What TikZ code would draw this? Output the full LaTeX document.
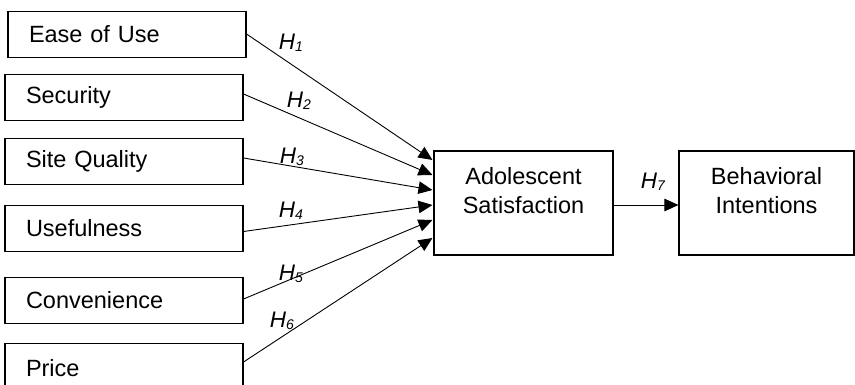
\documentclass[tikz,border=0pt]{standalone}
\usepackage{fontspec}
\setmainfont{Liberation Sans}
\usetikzlibrary{arrows.meta,calc}
\newcommand{\hsub}[1]{H\raisebox{-2.5pt}{\fontsize{14}{14}\selectfont #1}}
\begin{document}
\begin{tikzpicture}[x=1pt,y=-1pt,
  inbox/.style={draw, line width=1.1pt, minimum height=46pt, text width=196pt,
    inner xsep=21pt, inner ysep=0pt, align=left, font=\fontsize{23.5}{28}\selectfont},
  bigbox/.style={draw, line width=1.1pt, minimum height=104pt, inner sep=0pt},
  boxtext/.style={align=center, inner sep=0pt, font=\fontsize{23.5}{29}\selectfont},
  hyp/.style={line width=0.9pt, -{Triangle[length=14pt,width=12.5pt]}},
  hlab/.style={inner sep=0pt, font=\fontsize{22.5}{26}\selectfont\itshape}
]
\useasboundingbox (0,0) rectangle (855,385);
\clip (0,0) rectangle (855,385);

% antecedent constructs
\node[inbox, minimum width=238pt] (ease) at (127,34.5) {Ease of Use};
\node[inbox, minimum width=238pt] (sec)  at (124,97.5) {Security};
\node[inbox, minimum width=238pt] (site) at (124,161.5){Site Quality};
\node[inbox, minimum width=238pt] (usef) at (124,228.5){Usefulness};
\node[inbox, minimum width=238pt] (conv) at (124,300.5){Convenience};
\node[inbox, minimum width=238pt, minimum height=49pt] (price) at (124,368){Price};

% outcome constructs
\node[bigbox, minimum width=179pt] (adol) at (523.5,203) {};
\node[boxtext] (adoltxt) at ($(adol.north)+(0,40)$) {Adolescent\\Satisfaction};
\node[bigbox, minimum width=175pt] (beh) at (766.5,203) {};
\node[boxtext] (behtxt) at ($(beh.north)+(0,40)$) {Behavioral\\Intentions};

% hypothesised paths
\draw[hyp] ($(ease.east)+(0,-0.5)$) -- ($(adol.west)+(-1,-43)$);
\draw[hyp] ($(sec.east)+(0,-3.5)$)  -- ($(adol.west)+(-1,-28)$);
\draw[hyp] ($(site.east)+(0,-3.5)$) -- ($(adol.west)+(-1,-13)$);
\draw[hyp] ($(usef.east)+(0,3)$)    -- ($(adol.west)+(-1,2)$);
\draw[hyp] ($(conv.east)+(0,-1.5)$) -- ($(adol.west)+(-1,17)$);
\draw[hyp] ($(price.east)+(0,-6)$)  -- ($(adol.west)+(-1,35)$);
\draw[hyp] ($(adol.east)+(0,2)$)    -- ($(beh.west)+(0,2)$);

% path labels
\node[hlab] (h1) at (291,43)  {\hsub{1}};
\node[hlab] (h2) at (299,101) {\hsub{2}};
\node[hlab] (h3) at (292,157) {\hsub{3}};
\node[hlab] (h4) at (291,211) {\hsub{4}};
\node[hlab] (h5) at (291,274) {\hsub{5}};
\node[hlab] (h6) at (282,321) {\hsub{6}};
\node[hlab] (h7) at (653,182) {\hsub{7}};
\end{tikzpicture}
\end{document}
